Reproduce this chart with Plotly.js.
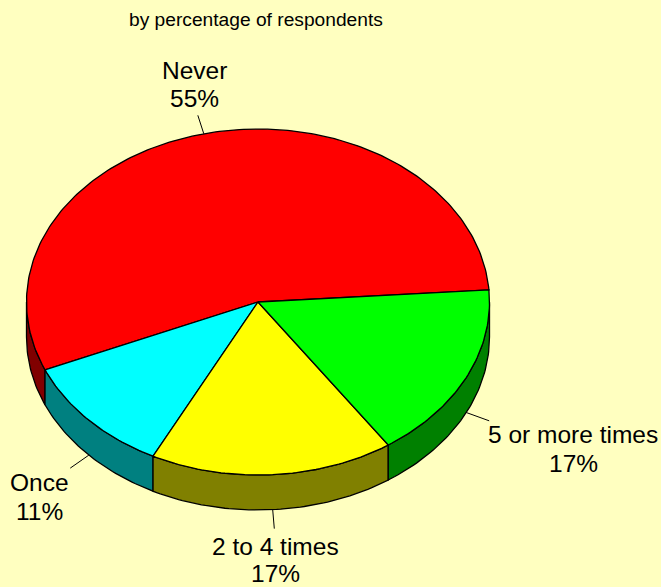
<!DOCTYPE html>
<html>
<head>
<meta charset="utf-8">
<script src="https://cdn.plot.ly/plotly-3.0.1.min.js"></script>
<style>html,body{margin:0;padding:0;background:#FFFFC0;overflow:hidden}</style>
</head>
<body>
<div id="chart" style="width:661px;height:587px"></div>
<script>
// Data (slice sizes; labels show them rounded)
const categories = ["Never", "Once", "2 to 4 times", "5 or more times"];
const percents = [55.3, 11.1, 17.0, 16.6];
const subtitle = "by percentage of respondents";

// Styles
const topColors = ["#FF0000", "#00FFFF", "#FFFF00", "#00FF00"];
const wallColors = ["#800000", "#008080", "#808000", "#008000"];
const bg = "#FFFFC0";
const font = "Liberation Sans, Arial, sans-serif";

// Pie geometry in axis units
const cx = 258, cy = 302, rx = 231.5, ry = 173, depth = 35, startDeg = 4;
const leaderScale = 1.11;
// Label line centres (axis units)
const labelX = [194, 39.5, 275, 573];
const labelY1 = [70, 482, 546, 434];
const labelY2 = [98, 511, 573, 463];

const rad = d => d * Math.PI / 180;
const px = (d, s = 1) => cx + rx * s * Math.cos(rad(d));
const py = (d, s = 1, dz = 0) => cy - ry * s * Math.sin(rad(d)) + dz;
function arc(a, b) { const out = []; const n = Math.max(2, Math.ceil((b - a) / 1)); for (let i = 0; i <= n; i++) out.push(a + (b - a) * i / n); return out; }

const wallTraces = [], topTraces = [], leaderTraces = [], annotations = [];
const total = percents.reduce((s, v) => s + v, 0);
let cur = startDeg;
percents.forEach((v, i) => {
  const a = cur, b = cur + v / total * 360; cur = b;
  const mid = (a + b) / 2;
  // Top face
  const t = arc(a, b);
  topTraces.push({
    x: [cx, ...t.map(d => px(d)), cx], y: [cy, ...t.map(d => py(d)), cy],
    type: "scatter", mode: "lines", fill: "toself", fillcolor: topColors[i],
    line: { color: "#000", width: 1.3 }, hoverinfo: "skip", name: categories[i]
  });
  // Front wall: the part of the slice facing the viewer
  for (const [lo, hi] of [[180, 360], [540, 720]]) {
    const wa = Math.max(a, lo), wb = Math.min(b, hi);
    if (wb > wa) {
      const w = arc(wa, wb);
      wallTraces.push({
        x: [...w.map(d => px(d)), ...w.slice().reverse().map(d => px(d)), px(wa)],
        y: [...w.map(d => py(d)), ...w.slice().reverse().map(d => py(d, 1, depth)), py(wa)],
        type: "scatter", mode: "lines", fill: "toself", fillcolor: wallColors[i],
        line: { color: "#000", width: 1.3 }, hoverinfo: "skip"
      });
    }
  }
  // Leader line, from the visible outer edge outward
  const nm = ((mid % 360) + 360) % 360;
  const dz = nm > 180 ? depth : 0;
  leaderTraces.push({
    x: [px(mid), px(mid, leaderScale)], y: [py(mid, 1, dz), py(mid, leaderScale, dz)],
    type: "scatter", mode: "lines", line: { color: "#000", width: 1 }, hoverinfo: "skip"
  });
  const common = { xref: "x", yref: "y", showarrow: false, xanchor: "center", yanchor: "middle",
    font: { family: font, size: 24.5, color: "#000" } };
  annotations.push({ ...common, x: labelX[i], y: labelY1[i], text: categories[i] });
  annotations.push({ ...common, x: labelX[i], y: labelY2[i], text: Math.round(percents[i]) + "%" });
});
annotations.push({ xref: "x", yref: "y", x: 256, y: 19, showarrow: false, xanchor: "center", yanchor: "middle",
  text: subtitle, font: { family: font, size: 19.2, color: "#000" } });

Plotly.newPlot("chart", [...wallTraces, ...leaderTraces, ...topTraces], {
  width: 661, height: 587, showlegend: false,
  margin: { l: 0, r: 0, t: 0, b: 0 },
  paper_bgcolor: bg, plot_bgcolor: bg,
  xaxis: { visible: false, range: [0, 661], fixedrange: true },
  yaxis: { visible: false, range: [587, 0], fixedrange: true },
  annotations
}, { displayModeBar: false, staticPlot: true });
</script>
</body>
</html>
